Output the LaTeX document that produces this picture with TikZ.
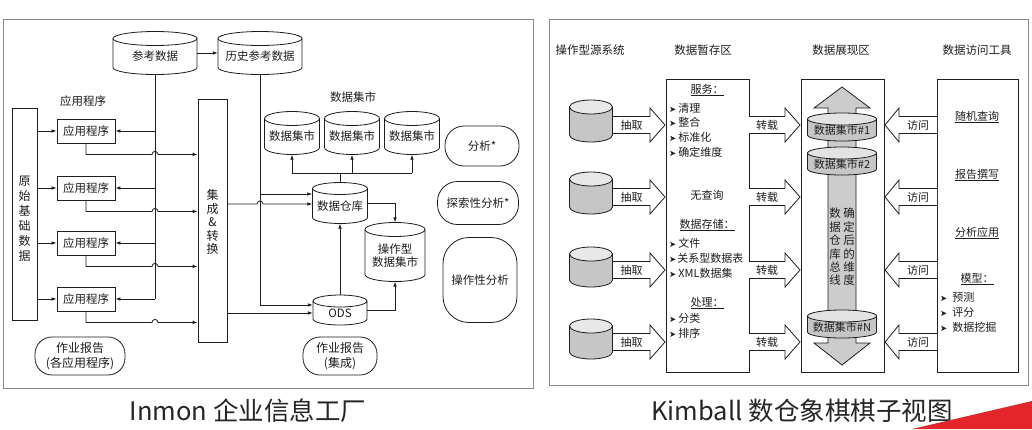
\documentclass[tikz,border=0pt]{standalone}
\usepackage{fontspec}
\setmainfont{Noto Sans CJK SC}
\newfontfamily\dejavu{DejaVu Sans}
\usetikzlibrary{arrows.meta,calc}
\definecolor{ink}{HTML}{1E1E1E}
\definecolor{framec}{HTML}{8A8A8A}
\definecolor{swoosh}{HTML}{E2262B}
\newcommand\bul{{\dejavu\fontsize{8.5}{8.5}\selectfont ➤}}
\tikzset{
  ln/.style={draw=ink, line width=0.8pt},
  arr/.style={ln, -{Latex[length=5pt,width=3.6pt]}},
  box/.style={ln, rectangle, inner sep=0pt},
  frame/.style={draw=framec, line width=1pt, inner sep=0pt},
  stad/.style={ln, rectangle, inner sep=0pt, align=center},
  vtxt/.style={align=center, inner sep=0pt, font=\fontsize{12}{15}\selectfont},
  cylbody/.style={fill=white},
  cyltop/.style={fill=white},
  blk/.style={ln, fill=white, line join=miter},
}
% cylinder: name, x, y, w, h, e, text
\newcommand\cyl[7]{%
  \path[cylbody] ({#2-#4/2},{#3-#5/2+#6}) -- ({#2-#4/2},{#3+#5/2-#6})
     arc[start angle=180,end angle=360,x radius={#4/2*1pt},y radius={#6*1pt}]
     -- ({#2+#4/2},{#3-#5/2+#6})
     arc[start angle=0,end angle=180,x radius={#4/2*1pt},y radius={#6*1pt}] -- cycle;
  \path[cyltop] (#2,{#3-#5/2+#6}) ellipse[x radius={#4/2*1pt},y radius={#6*1pt}];
  \draw[ln] ({#2-#4/2},{#3-#5/2+#6}) -- ({#2-#4/2},{#3+#5/2-#6})
     arc[start angle=180,end angle=360,x radius={#4/2*1pt},y radius={#6*1pt}]
     -- ({#2+#4/2},{#3-#5/2+#6})
     arc[start angle=0,end angle=180,x radius={#4/2*1pt},y radius={#6*1pt}];
  \draw[ln] ({#2-#4/2},{#3-#5/2+#6})
     arc[start angle=180,end angle=360,x radius={#4/2*1pt},y radius={#6*1pt}];
  \node[inner sep=0pt, minimum width=#4pt, minimum height=#5pt] (#1) at (#2,#3) {};
  \node[align=center, inner sep=0pt] (#1-t) at (#2,{#3+#6/2}) {#7};
}
% block arrow: name, tail x, tip x, y, head length (signed), text
\newcommand\barrow[6]{%
  \draw[blk] (#2,{#4-8.5}) -- ({#3-(#5)},{#4-8.5}) -- ({#3-(#5)},{#4-17}) -- (#3,#4)
     -- ({#3-(#5)},{#4+17}) -- ({#3-(#5)},{#4+8.5}) -- (#2,{#4+8.5});
  \node[inner sep=0pt, font=\fontsize{11}{13}\selectfont] (#1) at ({(#2+#3-(#5))/2},#4) {#6};
}
\begin{document}
\begin{tikzpicture}[x=1pt,y=-1pt,
  every node/.style={font=\fontsize{11.5}{13.5}\selectfont, text=ink}]
\useasboundingbox (0,0) rectangle (1032,429);
\fill[white] (0,0) rectangle (1032,429);

% ================= Inmon =================
\node[frame, minimum width=530pt, minimum height=369pt] (lf) at (268,203.5) {};

\cyl{ref}{155}{53}{84}{43}{7}{参考数据}
\cyl{hist}{260}{53}{84}{43}{7}{历史参考数据}
\draw[arr] (ref.east) -- (hist.west);

\node[inner sep=0pt] (applbl) at (83,101) {应用程序};
\node[box, minimum width=25pt, minimum height=212pt] (raw) at (24.5,214) {};
\node[vtxt] (rawt) at (24.5,219) {原\\始\\基\\础\\数\\据};

\node[box, minimum width=29pt, minimum height=243pt] (ci) at (212.5,220.5) {};
\node[vtxt, font=\fontsize{12}{13.5}\selectfont] (cit) at (212.5,222) {集\\成\\\&\\转\\换};

\foreach \i/\y in {1/131,2/188,3/243,4/299}{
  \node[box, minimum width=58pt, minimum height=24pt] (app\i) at (86,\y) {应用程序};
}
\draw[ln] (ref.south) -- (ref.south |- app4);
\foreach \i in {1,2,3,4}{
  \draw[arr] (raw.east |- app\i) -- (app\i.west);
  \draw[arr] (ref.south |- app\i) -- (app\i.east);
  \coordinate (o\i) at ($(app\i.south)+(0,11)$);
  \draw[arr] (app\i.south) -- (o\i) -- ($(ref.south |- o\i)+(-3,0)$)
     arc[start angle=180,end angle=0,radius=3pt] -- (ci.west |- o\i);
}

\node[inner sep=0pt] (martlbl) at (353,97) {数据集市};
\cyl{mart1}{292}{133}{55}{43}{7}{数据集市}
\cyl{mart2}{352}{133}{55}{43}{7}{数据集市}
\cyl{mart3}{412}{133}{55}{43}{7}{数据集市}
\cyl{dw}{340}{203}{55}{41}{6}{数据仓库}
\cyl{opm}{395}{252}{60}{59}{7}{操作型\\数据集市}
\cyl{ods}{340}{310}{54}{30}{6}{ODS}

\coordinate (t) at (340,173);
\draw[ln] (dw.north) -- (t);
\draw[ln] (mart1.south |- t) -- (mart3.south |- t);
\foreach \i in {1,2,3}{ \draw[arr] (mart\i.south |- t) -- (mart\i.south); }

\coordinate (h1) at (260,194);
\coordinate (h2) at (260,305);
\draw[ln] (hist.south) -- (h2);
\draw[arr] (h1) -- (dw.west |- h1);
\draw[arr] (h2) -- (ods.west |- h2);
\coordinate (c1y) at (0,204);
\coordinate (c2y) at (0,313);
\draw[arr] (ci.east |- c1y) -- ($(hist.south |- c1y)+(-3,0)$)
   arc[start angle=180,end angle=0,radius=3pt] -- (dw.west |- c1y);
\draw[arr] (ci.east |- c2y) -- (ods.west |- c2y);
\draw[arr] (dw.east) -| (opm.north);
\draw[arr] (ods.north) -- (dw.south);
\draw[arr] (ods.east) -| (opm.south);

\node[stad, rounded corners=17pt, minimum width=90pt, minimum height=38pt,
  font=\fontsize{12}{15}\selectfont] (rep1) at (80,356) {作业报告\\(各应用程序)};
\node[stad, rounded corners=17pt, minimum width=74pt, minimum height=38pt,
  font=\fontsize{12}{15}\selectfont] (rep2) at (340,356) {作业报告\\(集成)};
\node[stad, rounded corners=19pt, minimum width=74pt, minimum height=40pt] (an1) at (482,146) {分析*};
\node[stad, rounded corners=20pt, minimum width=81pt, minimum height=43pt] (an2) at (478,203) {探索性分析*};
\node[stad, rounded corners=26pt, minimum width=74pt, minimum height=85pt] (an3) at (480,280) {操作性分析};

% ================= Kimball =================
\node[frame, minimum width=479pt, minimum height=366pt] (rf) at (788.5,202) {};
\node[inner sep=0pt] (hd1) at (590,50) {操作型源系统};
\node[inner sep=0pt] (hd2) at (703,50) {数据暂存区};
\node[inner sep=0pt] (hd3) at (841,50) {数据展现区};
\node[inner sep=0pt] (hd4) at (977,50) {数据访问工具};

\begin{scope}[cylbody/.style={fill=gray!45}, cyltop/.style={fill=gray!18}]
\cyl{s1}{591}{121}{43}{42}{7}{}
\cyl{s2}{591}{193}{43}{42}{7}{}
\cyl{s3}{591}{267}{43}{40}{7}{}
\cyl{s4}{591}{339}{43}{40}{7}{}
\end{scope}

\node[box, minimum width=83pt, minimum height=293pt] (stg) at (707.5,225.5) {};
\node[box, minimum width=83pt, minimum height=293pt] (pres) at (842.5,225.5) {};
\node[box, minimum width=81pt, minimum height=293pt] (acc) at (977.5,225.5) {};

\foreach \i/\y in {1/125,2/197,3/270,4/342}{
  \barrow{ex\i}{613}{665}{\y}{15}{抽取}
  \barrow{ld\i}{749}{800}{\y}{15}{转载}
  \barrow{ac\i}{937}{885}{\y}{-14}{访问}
}

% staging contents
\begin{scope}[every node/.style={font=\fontsize{11}{13}\selectfont, text=ink, inner sep=0pt}]
\node (sv) at (707,90) {\underline{服务：}};
\node[anchor=west] (sv1) at (669,108) {\bul\hspace{2pt}清理};
\node[anchor=west] (sv2) at (669,122) {\bul\hspace{2pt}整合};
\node[anchor=west] (sv3) at (669,137) {\bul\hspace{2pt}标准化};
\node[anchor=west] (sv4) at (669,152) {\bul\hspace{2pt}确定维度};
\node (nq) at (707,195) {无查询};
\node (ds) at (707,225) {\underline{数据存储：}};
\node[anchor=west] (ds1) at (669,243) {\bul\hspace{2pt}文件};
\node[anchor=west] (ds2) at (669,258) {\bul\hspace{1pt}关系型数据表};
\node[anchor=west] (ds3) at (669,273) {\bul\hspace{2pt}XML数据集};
\node (pr) at (707,303) {\underline{处理：}};
\node[anchor=west] (pr1) at (669,318) {\bul\hspace{2pt}分类};
\node[anchor=west] (pr2) at (669,333) {\bul\hspace{2pt}排序};

% access contents
\node (q1) at (977,117) {\underline{随机查询}};
\node (q2) at (977,175) {\underline{报告撰写}};
\node (q3) at (977,233) {\underline{分析应用}};
\node (q4) at (977,279) {\underline{模型：}};
\node[anchor=west] (m1) at (940,297) {\bul\hspace{5pt}预测};
\node[anchor=west] (m2) at (940,312) {\bul\hspace{5pt}评分};
\node[anchor=west] (m3) at (940,327) {\bul\hspace{5pt}数据挖掘};
\end{scope}

% presentation area
\draw[ln, fill=gray!40, line join=miter] (842,87) -- (870,108) -- (856,108) -- (856,343) -- (870,343)
  -- (842,365) -- (814,343) -- (828,343) -- (828,108) -- (814,108) -- cycle;
\begin{scope}[cylbody/.style={fill=gray!45}, cyltop/.style={fill=gray!22},
  every node/.style={font=\fontsize{11}{13}\selectfont, text=ink}]
\cyl{dm1}{842}{127}{69}{28}{6}{数据集市\#1}
\cyl{dm2}{842}{161}{69}{28}{6}{数据集市\#2}
\cyl{dmn}{842}{324}{69}{28}{6}{数据集市\#N}
\end{scope}
\node[vtxt, font=\fontsize{11.5}{13.4}\selectfont] (bus) at (835,247) {数\\据\\仓\\库\\总\\线};
\node[vtxt, font=\fontsize{11.5}{13.4}\selectfont] (dim) at (849,247) {确\\定\\后\\的\\维\\度};

% captions
\node[font=\fontsize{25.5}{30}\selectfont, text=black!85] (cap1) at (248,411) {Inmon 企业信息工厂};
\node[font=\fontsize{25.5}{30}\selectfont, text=black!85] (cap2) at (802,411) {Kimball 数仓象棋棋子视图};
\fill[swoosh] (912,429) -- (1032,401) -- (1032,429) -- cycle;
\end{tikzpicture}
\end{document}
